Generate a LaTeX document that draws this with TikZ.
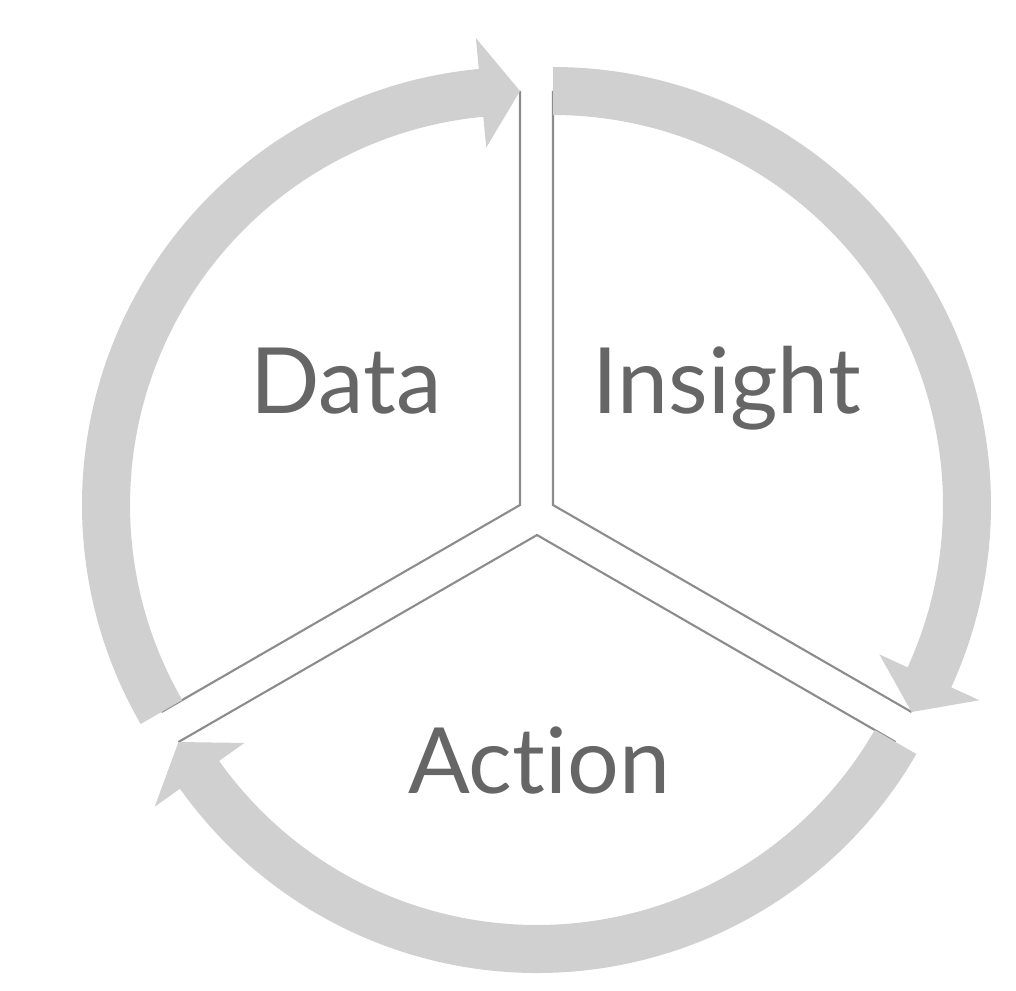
\documentclass[tikz,border=0pt]{standalone}
\usepackage{fontspec}
\setmainfont{Lato}[Ligatures=NoCommon]
\usepackage{tikz}
\usetikzlibrary{calc}
\usetikzlibrary{positioning}
\definecolor{bandgray}{HTML}{D0D0D0}
\definecolor{edgegray}{HTML}{8C8C8C}
\definecolor{textgray}{HTML}{666666}
\tikzset{band/.style = {fill = bandgray, draw = none},
  edge/.style = {draw = edgegray, line width = 0.6pt},
  lbl/.style = {text = textgray, anchor = base, inner sep = 0, font = \fontsize{26}{30}\selectfont}}
% #1 vertex, #2 start angle, #3 base of the head, #4 tip
\newcommand{\flowband}[4]{%
  \fill [band] ([shift={(#1)}]#2:438) arc [start angle=#2, end angle=#3, radius=438]
    -- ([shift={(#1)}]#3:469) -- ([shift={(#1)}]#4:414) -- ([shift={(#1)}]#3:359)
    -- ([shift={(#1)}]#3:390) arc [start angle=#3, end angle=#2, radius=390] -- cycle;}

\begin{document}
\begin{tikzpicture}[x=0.01cm, y=0.01cm]
          \useasboundingbox (0, 0) rectangle (1016, 990);

          \coordinate (data) at (520, 485);
          \coordinate (insight) at (553, 485);
          \coordinate (action) at (537, 455);

          \coordinate (data-top) at ($(data)+(90:414)$);
          \coordinate (data-low) at ($(data)+(210:414)$);
          \coordinate (insight-top) at ($(insight)+(90:414)$);
          \coordinate (insight-low) at ($(insight)+(-30:414)$);
          \coordinate (action-right) at ($(action)+(-30:414)$);
          \coordinate (action-left) at ($(action)+(210:414)$);

          \draw [edge] (data-top) -- (data) -- (data-low);
          \draw [edge] (insight-top) -- (insight) -- (insight-low);
          \draw [edge] (action-right) -- (action) -- (action-left);

          \flowband{data}{210}{95.4}{90}
          \flowband{insight}{90}{-24.6}{-30}
          \flowband{action}{-30}{-144.6}{-150}

          \node [lbl] (data-text) at (346, 577) {Data};
          \node [lbl] (insight-text) at (727, 577) {Insight};
          \node [lbl] (action-text) at (539, 197) {Action};
        \end{tikzpicture}
\end{document}
